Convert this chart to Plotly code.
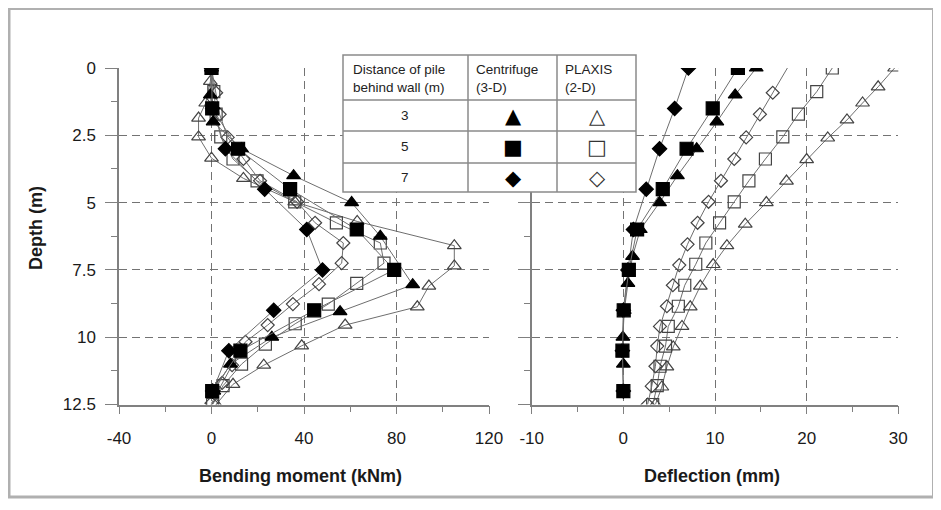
import plotly.graph_objects as go

# ---------------- data ----------------
# Centrifuge (3-D) bending moment (kNm) vs depth (m)
cf3_bm_depth = [0.0, 1.0, 2.0, 3.0, 4.0, 5.0, 6.25, 8.05, 9.05, 10.0, 11.0, 12.0]
cf3_bm = [0.0, -0.5, 0.7, 13.0, 35.5, 60.6, 73.0, 87.0, 55.6, 26.1, 8.2, 1.0]
cf5_bm_depth = [0.0, 1.5, 3.0, 4.5, 6.0, 7.5, 9.0, 10.5, 12.0]
cf5_bm = [0.0, 0.3, 11.5, 34.0, 62.8, 79.0, 44.4, 12.5, 0.3]
cf7_bm_depth = [0.0, 1.5, 3.0, 4.5, 6.0, 7.5, 9.0, 10.5, 12.0]
cf7_bm = [0.0, 0.5, 6.0, 23.0, 41.2, 48.0, 26.9, 7.5, 0.5]

# PLAXIS (2-D) bending moment
px3_bm_depth = [0.0, 0.5, 1.3, 1.86, 2.56, 3.35, 4.1, 4.97, 5.7, 6.6, 7.35, 8.1, 8.87, 9.55, 10.32, 11.04, 11.75, 12.5]
px3_bm = [0.0, -0.5, -2.5, -5.6, -5.6, 0.0, 13.8, 36.0, 63.0, 105.0, 105.0, 94.0, 89.0, 57.8, 39.0, 22.6, 9.3, 2.0]
px5_bm_depth = [0.0, 0.88, 1.71, 2.56, 3.38, 4.19, 4.97, 5.75, 6.5, 7.25, 8.0, 8.77, 9.5, 10.26, 11.0, 11.8, 12.5]
px5_bm = [0.0, 1.0, 2.0, 4.0, 9.3, 19.7, 36.0, 54.0, 73.0, 74.6, 62.8, 50.5, 36.2, 23.3, 13.0, 5.0, 0.5]
px7_bm_depth = [0.0, 0.92, 1.72, 2.58, 3.38, 4.19, 4.97, 5.75, 6.5, 7.25, 8.03, 8.77, 9.55, 10.17, 11.04, 11.7, 12.45]
px7_bm = [0.0, 2.0, 3.5, 7.0, 13.8, 21.0, 37.0, 44.8, 57.0, 56.3, 46.5, 35.2, 24.3, 14.7, 8.9, 4.6, 0.0]

# Centrifuge (3-D) deflection (mm) vs depth (m)
cf3_def_depth = [0.0, 1.0, 2.0, 3.0, 4.0, 5.0, 6.0, 7.0, 8.0, 9.0, 10.0, 11.0]
cf3_def = [14.5, 12.2, 10.2, 8.0, 5.9, 3.95, 1.85, 1.0, 0.5, 0.1, -0.05, 0.0]
cf5_def_depth = [0.0, 1.5, 3.0, 4.5, 6.0, 7.5, 9.0, 10.5, 12.0]
cf5_def = [12.5, 9.75, 6.9, 4.3, 1.5, 0.6, 0.04, -0.1, 0.0]
cf7_def_depth = [0.0, 1.5, 3.0, 4.5, 6.0, 7.5, 9.0, 10.5, 12.0]
cf7_def = [7.1, 5.6, 3.95, 2.5, 1.1, 0.5, 0.0, -0.1, 0.0]

# PLAXIS (2-D) deflection
px3_def_depth = [0.0, 0.7, 1.3, 1.93, 2.6, 3.4, 4.2, 5.0, 5.8, 6.6, 7.3, 8.1, 8.87, 9.6, 10.36, 11.1, 11.85, 12.5]
px3_def = [29.6, 27.8, 26.1, 24.4, 22.3, 20.0, 17.8, 15.6, 13.3, 11.3, 9.8, 8.4, 7.3, 6.4, 5.45, 4.75, 4.2, 3.5]
px5_def_depth = [0.0, 0.88, 1.71, 2.56, 3.38, 4.19, 4.97, 5.75, 6.5, 7.29, 8.07, 8.85, 9.6, 10.33, 11.08, 11.8, 12.5]
px5_def = [22.8, 21.1, 19.1, 17.4, 15.5, 13.7, 12.1, 10.5, 9.0, 7.9, 6.7, 6.0, 4.9, 4.6, 4.0, 3.7, 3.2]
px7_def_depth = [0.0, 0.92, 1.72, 2.58, 3.38, 4.19, 4.97, 5.75, 6.55, 7.32, 8.07, 8.85, 9.6, 10.33, 11.08, 11.82, 12.5]
px7_def = [17.9, 16.3, 14.9, 13.4, 12.1, 10.65, 9.3, 8.1, 7.0, 6.1, 5.4, 4.75, 4.0, 3.7, 3.5, 3.1, 2.65]

bm_ticks = [-40, 0, 40, 80, 120]
bm_labels = ["-40", "0", "40", "80", "120"]
def_ticks = [-10, 0, 10, 20, 30]
def_labels = ["-10", "0", "10", "20", "30"]
depth_ticks = [0, 2.5, 5, 7.5, 10, 12.5]
depth_labels = ["0", "2.5", "5", "7.5", "10", "12.5"]

legend_rows = ["3", "5", "7"]
legend_cf_symbols = ["\u25B2", "\u25A0", "\u25C6"]
legend_px_symbols = ["\u25B3", "\u25A1", "\u25C7"]

# ---------------- figure ----------------
OFF = 8  # page body margin
W, H = 941 - 2 * OFF, 510 - 2 * OFF
fig = go.Figure()

LINE = "#6e6e6e"
FILLED = "#000000"
OPEN = "#444444"


def add_series(x, y, symbol, size, filled, xa, ya, skip_first_marker=False):
    col = FILLED if filled else OPEN
    fig.add_trace(go.Scatter(
        x=x, y=y, mode="lines", xaxis=xa, yaxis=ya,
        line=dict(color=LINE, width=1),
        showlegend=False, hoverinfo="skip"))
    s = 1 if skip_first_marker else 0
    fig.add_trace(go.Scatter(
        x=x[s:], y=y[s:], mode="markers", xaxis=xa, yaxis=ya,
        marker=dict(symbol=symbol, size=size, color=col,
                    line=dict(color=col, width=1.2)),
        showlegend=False, hoverinfo="skip"))


# left panel (bending moment)
add_series(px3_bm, px3_bm_depth, "triangle-up-open", 12, False, "x", "y")
add_series(px5_bm, px5_bm_depth, "square-open", 12, False, "x", "y")
add_series(px7_bm, px7_bm_depth, "diamond-open", 10, False, "x", "y")
add_series(cf7_bm, cf7_bm_depth, "diamond", 11, True, "x", "y")
add_series(cf3_bm, cf3_bm_depth, "triangle-up", 12, True, "x", "y")
add_series(cf5_bm, cf5_bm_depth, "square", 13, True, "x", "y")

# right panel (deflection)
add_series(px3_def, px3_def_depth, "triangle-up-open", 12, False, "x2", "y2")
add_series(px5_def, px5_def_depth, "square-open", 12, False, "x2", "y2")
add_series(px7_def, px7_def_depth, "diamond-open", 10, False, "x2", "y2", skip_first_marker=True)
add_series(cf7_def, cf7_def_depth, "diamond", 11, True, "x2", "y2")
add_series(cf3_def, cf3_def_depth, "triangle-up", 12, True, "x2", "y2")
add_series(cf5_def, cf5_def_depth, "square", 13, True, "x2", "y2")


def px_x(p):
    return (p - OFF) / W


def px_y(p):
    return 1 - (p - OFF) / H


y_top, y_bot = 68, 404.5
FONT = "Liberation Sans Narrow, Arial Narrow, Liberation Sans, Arial"
tick_font = dict(family=FONT, size=17, color="#1a1a1a")
title_font = dict(family=FONT, size=18, color="#1a1a1a")
AX = "#808080"
GRID = "#737373"

fig.update_layout(
    width=W, height=H,
    margin=dict(l=0, r=0, t=0, b=0, autoexpand=False),
    paper_bgcolor="white", plot_bgcolor="white",
    showlegend=False,
    xaxis=dict(range=[bm_ticks[0], bm_ticks[-1]], tickmode="array", tickvals=bm_ticks, ticktext=bm_labels,
               minor=dict(tickmode="linear", tick0=bm_ticks[0], dtick=(bm_ticks[1] - bm_ticks[0]) / 2),
               domain=[px_x(119), px_x(489)], anchor="y"),
    yaxis=dict(range=[depth_ticks[-1], depth_ticks[0]], tickmode="array", tickvals=depth_ticks,
               ticktext=depth_labels,
               minor=dict(tickmode="linear", tick0=0, dtick=(depth_ticks[1] - depth_ticks[0]) / 2),
               domain=[px_y(y_bot), px_y(y_top)], anchor="x"),
    xaxis2=dict(range=[def_ticks[0], def_ticks[-1]], tickmode="array", tickvals=def_ticks, ticktext=def_labels,
                minor=dict(tickmode="linear", tick0=def_ticks[0], dtick=(def_ticks[1] - def_ticks[0]) / 2),
                domain=[px_x(531.7), px_x(898.3)], anchor="y2"),
    yaxis2=dict(range=[depth_ticks[-1], depth_ticks[0]], tickmode="array", tickvals=depth_ticks,
                showticklabels=False,
                minor=dict(tickmode="linear", tick0=0, dtick=(depth_ticks[1] - depth_ticks[0]) / 2),
                domain=[px_y(y_bot), px_y(y_top)], anchor="x2"),
)

fig.update_xaxes(showline=True, linecolor=AX, linewidth=1.5,
                 showgrid=True, gridcolor=GRID, griddash="8px,5px", gridwidth=1.3,
                 zeroline=False, ticks="outside", ticklen=8, tickcolor=AX, tickwidth=1.3,
                 tickfont=tick_font, fixedrange=True, automargin=False, ticklabelstandoff=9,
                 minor_ticks="outside", minor_ticklen=6, minor_tickcolor=AX, minor_tickwidth=1.3,
                 minor_showgrid=False)
fig.update_yaxes(showline=True, linecolor=AX, linewidth=1.5,
                 showgrid=True, gridcolor=GRID, griddash="8px,5px", gridwidth=1.3,
                 zeroline=False, ticks="outside", ticklen=12, tickcolor=AX, tickwidth=1.3,
                 tickfont=tick_font, fixedrange=True, automargin=False, ticklabelstandoff=6,
                 minor_ticks="outside", minor_ticklen=6, minor_tickcolor=AX, minor_tickwidth=1.3,
                 minor_showgrid=False)

shapes = []
# outer border
shapes.append(dict(type="rect", xref="paper", yref="paper",
                   x0=px_x(9), x1=px_x(933.5), y0=px_y(8.5), y1=px_y(497),
                   line=dict(color="#b0b0b0", width=3), fillcolor="rgba(0,0,0,0)", layer="above"))
# legend table
tx0, tx1, ty0, ty1 = 343, 636, 55, 192
c1, c2 = 468, 557
r1, r2, r3 = 100, 131, 163
shapes.append(dict(type="rect", xref="paper", yref="paper",
                   x0=px_x(tx0), x1=px_x(tx1), y0=px_y(ty0), y1=px_y(ty1),
                   line=dict(color="#8a8a8a", width=1.5), fillcolor="white", layer="above"))
for cx in (c1, c2):
    shapes.append(dict(type="line", xref="paper", yref="paper", x0=px_x(cx), x1=px_x(cx),
                       y0=px_y(ty0), y1=px_y(ty1), line=dict(color="#8a8a8a", width=1.5), layer="above"))
for ry in (r1, r2, r3):
    shapes.append(dict(type="line", xref="paper", yref="paper", x0=px_x(tx0), x1=px_x(tx1),
                       y0=px_y(ry), y1=px_y(ry), line=dict(color="#8a8a8a", width=1.5), layer="above"))
fig.update_layout(shapes=shapes)

ann = []
hdr_font = dict(family="Liberation Sans, Arial", size=13.5, color="#222")
ann.append(dict(text="Distance of pile<br>behind wall (m)", x=px_x(351), y=px_y(78), xref="paper", yref="paper",
                xanchor="left", yanchor="middle", showarrow=False, align="left", font=hdr_font))
ann.append(dict(text="Centrifuge<br>(3-D)", x=px_x(474), y=px_y(78), xref="paper", yref="paper",
                xanchor="left", yanchor="middle", showarrow=False, align="left", font=hdr_font))
ann.append(dict(text="PLAXIS<br>(2-D)", x=px_x(563), y=px_y(78), xref="paper", yref="paper",
                xanchor="left", yanchor="middle", showarrow=False, align="left", font=hdr_font))
row_c = [(r1 + r2) / 2, (r2 + r3) / 2, (r3 + ty1) / 2]
sym_font_f = dict(family="DejaVu Sans", size=21, color="#000")
sym_font_o = dict(family="DejaVu Sans", size=21, color="#333")
for lab, ry, sf, so in zip(legend_rows, row_c, legend_cf_symbols, legend_px_symbols):
    ann.append(dict(text=lab, x=px_x(405), y=px_y(ry), xref="paper", yref="paper",
                    xanchor="center", yanchor="middle", showarrow=False, font=hdr_font))
    ann.append(dict(text=sf, x=px_x(513), y=px_y(ry), xref="paper", yref="paper",
                    xanchor="center", yanchor="middle", showarrow=False, font=sym_font_f))
    ann.append(dict(text=so, x=px_x(597), y=px_y(ry), xref="paper", yref="paper",
                    xanchor="center", yanchor="middle", showarrow=False, font=sym_font_o))
# axis titles
ann.append(dict(text="<b>Depth (m)</b>", x=px_x(36), y=px_y(228), xref="paper", yref="paper", textangle=-90,
                xanchor="center", yanchor="middle", showarrow=False, font=title_font))
ann.append(dict(text="<b>Bending moment (kNm)</b>", x=px_x(300), y=px_y(476), xref="paper", yref="paper",
                xanchor="center", yanchor="middle", showarrow=False, font=title_font))
ann.append(dict(text="<b>Deflection (mm)</b>", x=px_x(712), y=px_y(476), xref="paper", yref="paper",
                xanchor="center", yanchor="middle", showarrow=False, font=title_font))
fig.update_layout(annotations=ann)

fig.write_html("out.html")
